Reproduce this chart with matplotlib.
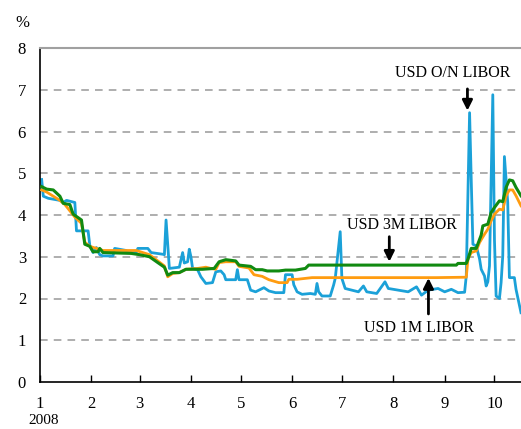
import matplotlib.pyplot as plt
import numpy as np

plt.rcParams['font.family'] = ['Liberation Serif', 'DejaVu Serif']

# days counted from 2008-01-01
on_days = [1, 2, 5, 12, 14, 16, 21, 22, 29, 30, 32, 34, 36, 38, 44, 45, 52, 53, 58, 59,
           65, 67, 74, 75, 76, 77, 78, 84, 86, 87, 89, 90, 91, 92, 95, 97, 100, 104, 106, 109,
           111, 112, 118, 119, 120, 125, 127, 130, 135, 138, 142, 147, 148, 152, 153, 155, 158, 163, 166, 167,
           168, 170, 175, 177, 178, 181, 182, 184, 188, 192, 195, 197, 203, 208, 210, 216, 222, 227, 230, 234,
           240, 244, 248, 252, 256, 257, 259, 260, 261, 263, 265, 266, 268, 269, 270, 271, 273, 274, 275, 277,
           278, 279, 280, 282, 283, 286, 287, 290]
on_rate = [4.85, 4.45, 4.40, 4.35, 4.30, 4.35, 4.30, 3.62, 3.62, 3.28, 3.10, 3.22, 3.05, 3.02, 3.02, 3.20, 3.15, 3.10, 3.10, 3.20,
           3.20, 3.10, 3.06, 3.05, 3.88, 3.30, 2.72, 2.75, 3.10, 2.85, 2.88, 3.18, 3.00, 2.72, 2.69, 2.52, 2.36, 2.38, 2.64, 2.66,
           2.57, 2.45, 2.45, 2.69, 2.45, 2.45, 2.20, 2.16, 2.26, 2.18, 2.14, 2.14, 2.57, 2.57, 2.33, 2.16, 2.10, 2.12, 2.10, 2.36,
           2.16, 2.06, 2.06, 2.32, 2.48, 3.60, 2.48, 2.24, 2.20, 2.16, 2.30, 2.16, 2.12, 2.40, 2.24, 2.20, 2.16, 2.28, 2.08, 2.20,
           2.24, 2.16, 2.22, 2.14, 2.15, 2.54, 6.45, 4.84, 3.30, 3.26, 2.95, 2.70, 2.54, 2.30, 2.40, 2.78, 6.88, 3.40, 2.06, 2.00,
           2.38, 3.02, 5.40, 4.30, 2.50, 2.50, 2.22, 1.66]

m3_days = [1, 4, 8, 12, 14, 18, 20, 25, 27, 30, 32, 35, 36, 38, 55, 60, 66, 71, 75, 77,
           80, 84, 88, 92, 98, 105, 108, 112, 118, 120, 127, 130, 134, 137, 144, 148, 154, 160, 162, 251,
           252, 257, 258, 260, 263, 266, 267, 270, 272, 274, 277, 279, 281, 283, 285, 287, 290]
m3_rate = [4.68, 4.62, 4.60, 4.45, 4.28, 4.25, 4.02, 3.88, 3.30, 3.25, 3.12, 3.12, 3.20, 3.10, 3.08, 3.05, 3.00, 2.86, 2.75, 2.56,
           2.62, 2.62, 2.70, 2.70, 2.70, 2.72, 2.88, 2.93, 2.90, 2.80, 2.77, 2.69, 2.69, 2.66, 2.66, 2.68, 2.68, 2.72, 2.80, 2.80,
           2.84, 2.84, 2.94, 3.20, 3.20, 3.52, 3.74, 3.78, 4.06, 4.18, 4.34, 4.32, 4.66, 4.84, 4.82, 4.66, 4.46]

m1_days = [1, 4, 8, 12, 15, 18, 21, 25, 27, 30, 34, 38, 58, 62, 66, 71, 75, 77, 80, 84,
           88, 95, 100, 103, 106, 108, 112, 118, 120, 126, 129, 134, 138, 144, 149, 150, 155, 164, 239, 257,
           258, 260, 263, 265, 268, 270, 272, 274, 277, 279, 281, 283, 285, 287, 290]
m1_rate = [4.60, 4.55, 4.45, 4.35, 4.25, 4.10, 3.95, 3.80, 3.35, 3.25, 3.20, 3.15, 3.15, 3.10, 3.05, 2.90, 2.78, 2.52, 2.60, 2.62,
           2.70, 2.72, 2.75, 2.72, 2.70, 2.86, 2.88, 2.88, 2.77, 2.73, 2.57, 2.53, 2.45, 2.38, 2.38, 2.46, 2.46, 2.50, 2.50, 2.51,
           2.94, 3.10, 3.14, 3.34, 3.54, 3.66, 3.86, 4.02, 4.14, 4.12, 4.46, 4.60, 4.60, 4.46, 4.22]

month_labels = ['1', '2', '3', '4', '5', '6', '7', '8', '9', '10']


def month_starts():
    start = np.datetime64('2008-01-01')
    months = [np.datetime64('2008-%02d-01' % m) for m in range(1, 11)]
    return [(m - start).astype(int) for m in months]


def create_plot():
    fig = plt.figure(figsize=(5.21, 4.29), dpi=100)
    ax = fig.add_axes([40 / 521, 1 - 382 / 429, 1 - 40 / 521, (382 - 48) / 429])

    # dashed horizontal grid
    for y in range(1, 8):
        ax.axhline(y, color='#999999', lw=1.1, linestyle=(0, (5, 4)), zorder=0)

    ax.plot(on_days, on_rate, color='#1ba1d8', lw=2.0, zorder=2)
    ax.plot(m1_days, m1_rate, color='#ff9c10', lw=2.0, zorder=3)
    ax.plot(m3_days, m3_rate, color='#118a11', lw=2.2, zorder=4)

    ax.set_xlim(0, 290)
    ax.set_ylim(0, 8)
    ax.set_yticks(range(0, 9))
    ax.set_xticks(month_starts())
    ax.set_xticklabels(month_labels)
    ax.tick_params(axis='x', direction='in', length=5, width=1, pad=10, labelsize=12)
    ax.tick_params(axis='y', length=0, pad=10, labelsize=12)

    ax.spines['right'].set_visible(False)
    ax.spines['top'].set_color('#a0a0a0')
    ax.spines['top'].set_linewidth(1.5)
    ax.spines['left'].set_linewidth(1.2)
    ax.spines['bottom'].set_linewidth(1.2)

    # labels and arrows
    arrow = dict(arrowstyle='-|>,head_length=0.6,head_width=0.3', lw=2, color='black', shrinkA=0, shrinkB=0)
    ax.text(249, 7.4, 'USD O/N LIBOR', ha='center', va='center', fontsize=11.5)
    ax.annotate('', xy=(257.7, 6.5), xytext=(257.7, 7.02), arrowprops=arrow)
    ax.text(218, 3.76, 'USD 3M LIBOR', ha='center', va='center', fontsize=11.5)
    ax.annotate('', xy=(210.6, 2.88), xytext=(210.6, 3.48), arrowprops=arrow)
    ax.text(228.7, 1.29, 'USD 1M LIBOR', ha='center', va='center', fontsize=11.5)
    ax.annotate('', xy=(234.2, 2.49), xytext=(234.2, 1.63), arrowprops=arrow)

    fig.text(22 / 521, 1 - 23 / 429, '%', ha='center', va='center', fontsize=12)
    fig.text(44 / 521, 1 - 421 / 429, '2008', ha='center', va='center', fontsize=11)

    fig.savefig('out.png', dpi=100)


create_plot()
